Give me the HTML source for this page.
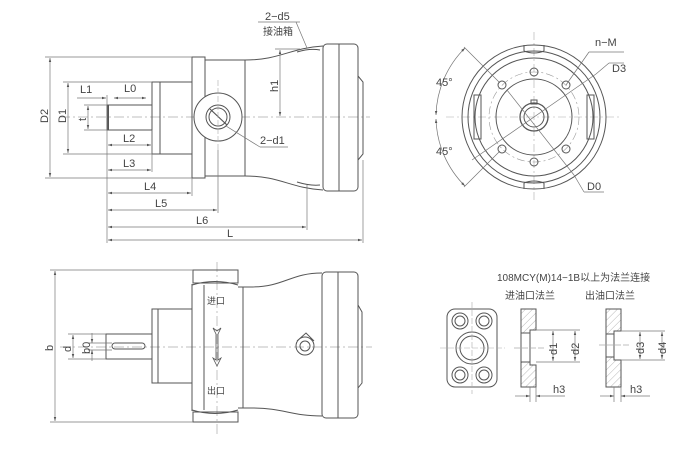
<!DOCTYPE html>
<html><head><meta charset="utf-8"><style>
html,body{margin:0;padding:0;background:#fff;}
svg{display:block}
text{font-family:"Liberation Sans","Noto Sans CJK SC",sans-serif;fill:#444;}
</style></head><body>
<svg width="698" height="456" viewBox="0 0 698 456" xmlns="http://www.w3.org/2000/svg">
<defs>
<marker id="a" viewBox="0 0 10 10" refX="10" refY="5" markerWidth="6" markerHeight="6" orient="auto-start-reverse"><path d="M0,2 L10,5 L0,8 z" fill="#555"/></marker>
<pattern id="h" width="5" height="5" patternUnits="userSpaceOnUse" patternTransform="rotate(45)"><line x1="0" y1="0" x2="0" y2="5" stroke="#999" stroke-width="0.7"/></pattern>
</defs>
<g stroke="#555" fill="none" stroke-width="1">
<!-- TOP VIEW -->
<line x1="60" y1="117" x2="370" y2="117" stroke="#aaa" stroke-dasharray="10,3,2,3" stroke-width="0.7"/>
<rect x="107" y="105" width="45" height="25"/>
<line x1="108" y1="105" x2="108" y2="130" stroke-width="2"/>
<rect x="152" y="82" width="40" height="72"/>
<line x1="160" y1="82" x2="160" y2="154"/>
<rect x="192" y="57" width="13" height="121"/>
<path d="M205,60 L245,60 C280,60 290,48 323,46 M205,176 L245,176 C280,176 290,188 323,190"/>
<line x1="245" y1="60" x2="245" y2="176"/>
<circle cx="218" cy="117" r="24" fill="#fff"/>
<circle cx="218" cy="117" r="12"/>
<circle cx="218" cy="117" r="9"/>
<line x1="210" y1="109" x2="227" y2="125" stroke-width="1.2"/>
<line x1="218" y1="80" x2="218" y2="150" stroke="#aaa" stroke-dasharray="6,2" stroke-width="0.6"/>
<rect x="323" y="44" width="35" height="147" rx="4"/>
<line x1="339" y1="44" x2="339" y2="191"/>
<path d="M358,76 L363,82 L363,154 L358,160"/>
<path d="M297,52 Q310,48 320,50 M297,182 Q310,186 320,185"/>
<!-- top dims -->
<g stroke="#777" stroke-width="0.7">
<line x1="45" y1="57" x2="192" y2="57"/><line x1="45" y1="178" x2="192" y2="178"/>
<line x1="50" y1="58" x2="50" y2="177" marker-start="url(#a)" marker-end="url(#a)"/>
<line x1="63" y1="82" x2="152" y2="82"/><line x1="63" y1="154" x2="152" y2="154"/>
<line x1="68" y1="83" x2="68" y2="153" marker-start="url(#a)" marker-end="url(#a)"/>
<line x1="84" y1="105" x2="107" y2="105"/><line x1="84" y1="130" x2="107" y2="130"/>
<line x1="88" y1="106" x2="88" y2="129" marker-start="url(#a)" marker-end="url(#a)"/>
<line x1="77" y1="98" x2="106" y2="98" marker-end="url(#a)"/>
<line x1="114" y1="98" x2="146" y2="98" marker-start="url(#a)" marker-end="url(#a)"/>
<line x1="107" y1="95" x2="107" y2="243"/>
<line x1="152" y1="130" x2="152" y2="172"/>
<line x1="108" y1="145" x2="151" y2="145" marker-start="url(#a)" marker-end="url(#a)"/>
<line x1="108" y1="170" x2="151" y2="170" marker-start="url(#a)" marker-end="url(#a)"/>
<line x1="192" y1="178" x2="192" y2="196"/>
<line x1="108" y1="193" x2="191" y2="193" marker-start="url(#a)" marker-end="url(#a)"/>
<line x1="218" y1="150" x2="218" y2="213"/>
<line x1="108" y1="210" x2="217" y2="210" marker-start="url(#a)" marker-end="url(#a)"/>
<line x1="307" y1="185" x2="307" y2="230"/>
<line x1="108" y1="227" x2="306" y2="227" marker-start="url(#a)" marker-end="url(#a)"/>
<line x1="363" y1="160" x2="363" y2="243"/>
<line x1="108" y1="240" x2="362" y2="240" marker-start="url(#a)" marker-end="url(#a)"/>
<line x1="275" y1="49" x2="300" y2="49"/>
<line x1="280" y1="50" x2="280" y2="116" marker-start="url(#a)" marker-end="url(#a)"/>
<line x1="258" y1="22" x2="300" y2="22"/><line x1="296" y1="22" x2="307" y2="48"/>
<line x1="226" y1="126" x2="260" y2="147"/><line x1="260" y1="147" x2="288" y2="147"/>
</g>
<!-- BOTTOM VIEW -->
<line x1="60" y1="347" x2="372" y2="347" stroke="#aaa" stroke-dasharray="10,3,2,3" stroke-width="0.7"/>
<line x1="217" y1="262" x2="217" y2="434" stroke="#aaa" stroke-dasharray="10,3,2,3" stroke-width="0.7"/>
<rect x="106" y="334" width="46" height="25"/>
<rect x="112" y="343" width="33" height="6" rx="3"/>
<rect x="152" y="309" width="40" height="74"/>
<line x1="158" y1="309" x2="158" y2="383"/>
<rect x="193" y="270" width="45" height="13"/>
<rect x="193" y="412" width="45" height="10"/>
<path d="M192,285 Q215,278 238,285 M192,410 Q215,417 238,410"/>
<line x1="192" y1="284" x2="192" y2="411"/><line x1="204" y1="285" x2="204" y2="410"/>
<line x1="243" y1="287" x2="243" y2="408"/>
<path d="M238,287 L250,287 C285,287 290,273 322,273 M238,408 L250,408 C285,408 290,416 322,416"/>
<rect x="322" y="272" width="36" height="146" rx="4"/>
<line x1="338" y1="272" x2="338" y2="418"/>
<path d="M358,305 L362,312 L362,383 L358,388"/>
<path d="M296,346 A9,9 0 0 1 314,346 A9,9 0 0 1 296,346 M297,341 L306,333 L314,341"/>
<circle cx="305" cy="346" r="5"/>
<path d="M213,328 L216,334 L216,360 L213,358 L217,366 L221,358 L218,360 L218,334 L221,328 L217,331 Z" stroke-width="0.8"/>
<g stroke="#777" stroke-width="0.7">
<line x1="50" y1="270" x2="193" y2="270"/><line x1="50" y1="422" x2="193" y2="422"/>
<line x1="55" y1="271" x2="55" y2="421" marker-start="url(#a)" marker-end="url(#a)"/>
<line x1="68" y1="334" x2="106" y2="334"/><line x1="68" y1="359" x2="106" y2="359"/>
<line x1="73" y1="335" x2="73" y2="358" marker-start="url(#a)" marker-end="url(#a)"/>
<line x1="88" y1="343" x2="112" y2="343"/><line x1="88" y1="350" x2="112" y2="350"/>
<line x1="92" y1="333" x2="92" y2="343" marker-end="url(#a)"/><line x1="92" y1="361" x2="92" y2="350" marker-end="url(#a)"/>
</g>
<!-- RIGHT TOP circle view -->
<g transform="translate(534,117)">
<line x1="-88" y1="0" x2="88" y2="0" stroke="#aaa" stroke-dasharray="8,3,2,3" stroke-width="0.6"/>
<line x1="0" y1="-85" x2="0" y2="85" stroke="#aaa" stroke-dasharray="8,3,2,3" stroke-width="0.6"/>
<circle r="72"/><circle r="66"/><circle r="59"/>
<circle r="45" stroke="#999" stroke-dasharray="8,3,2,3" stroke-width="0.6"/>
<circle r="38"/><circle r="14" stroke-width="1.3"/><circle r="10"/>
<rect x="-3" y="-17" width="6" height="4"/>
<rect x="-60" y="-22" width="7" height="44"/><rect x="53" y="-22" width="7" height="44"/>
<path d="M-10,-66 L-10,-72 M10,-66 L10,-72 M-10,-66 Q0,-62 10,-66 M-10,66 L-10,72 M10,66 L10,72 M-10,66 Q0,62 10,66"/>
<circle cx="0" cy="-45" r="4"/><circle cx="0" cy="45" r="4"/>
<circle cx="-32" cy="-32" r="4"/><circle cx="32" cy="-32" r="4"/>
<circle cx="-32" cy="32" r="4"/><circle cx="32" cy="32" r="4"/>
<g stroke="#777" stroke-width="0.7">
<line x1="-70" y1="-70" x2="-34" y2="-34"/><line x1="-70" y1="70" x2="-34" y2="34"/>
<line x1="-62" y1="43" x2="62" y2="-43"/>
<line x1="-27" y1="-27" x2="40" y2="58"/><line x1="40" y1="58" x2="50" y2="75"/>
<line x1="32" y1="-32" x2="55" y2="-65"/><line x1="55" y1="-65" x2="90" y2="-65"/>
<line x1="62" y1="-43" x2="75" y2="-54"/><line x1="75" y1="-54" x2="90" y2="-54"/>
<line x1="50" y1="75" x2="70" y2="75"/>
<path d="M-69,-69 A98,98 0 0 0 -98,-2" marker-start="url(#a)" marker-end="url(#a)"/>
<path d="M-98,2 A98,98 0 0 0 -69,69" marker-start="url(#a)" marker-end="url(#a)"/>
</g>
</g>
<!-- FLANGES -->
<rect x="447" y="309" width="50" height="78" rx="8"/>
<circle cx="460" cy="321" r="8"/><circle cx="460" cy="321" r="5"/>
<circle cx="484" cy="321" r="8"/><circle cx="484" cy="321" r="5"/>
<circle cx="460" cy="375" r="8"/><circle cx="460" cy="375" r="5"/>
<circle cx="484" cy="375" r="8"/><circle cx="484" cy="375" r="5"/>
<circle cx="472" cy="348" r="16"/><circle cx="472" cy="348" r="12"/>
<line x1="440" y1="348" x2="505" y2="348" stroke="#aaa" stroke-dasharray="6,2" stroke-width="0.6"/>
<line x1="472" y1="302" x2="472" y2="394" stroke="#aaa" stroke-dasharray="6,2" stroke-width="0.6"/>
<path d="M521,309 H536 V330 H530 V333 H521 Z" fill="url(#h)"/>
<path d="M521,387 H536 V365 H530 V362 H521 Z" fill="url(#h)"/>
<path d="M521,333 V362 M530,333 V362"/>
<path d="M606,309 H621 V331 H614 V334 H606 Z" fill="url(#h)"/>
<path d="M606,387 H621 V360 H614 V357 H606 Z" fill="url(#h)"/>
<path d="M606,334 V357 M614,334 V357"/>
<g stroke="#777" stroke-width="0.7">
<line x1="514" y1="348" x2="545" y2="348" stroke="#aaa" stroke-dasharray="6,2"/>
<line x1="599" y1="345" x2="630" y2="345" stroke="#aaa" stroke-dasharray="6,2"/>
<line x1="536" y1="330" x2="580" y2="330"/><line x1="536" y1="362" x2="580" y2="362"/>
<line x1="553" y1="331" x2="553" y2="361" marker-start="url(#a)" marker-end="url(#a)"/>
<line x1="575" y1="331" x2="575" y2="361" marker-start="url(#a)" marker-end="url(#a)"/>
<line x1="621" y1="331" x2="665" y2="331"/><line x1="621" y1="360" x2="665" y2="360"/>
<line x1="640" y1="332" x2="640" y2="359" marker-start="url(#a)" marker-end="url(#a)"/>
<line x1="662" y1="332" x2="662" y2="359" marker-start="url(#a)" marker-end="url(#a)"/>
<line x1="530" y1="387" x2="530" y2="402"/><line x1="536" y1="387" x2="536" y2="402"/>
<line x1="515" y1="396" x2="530" y2="396" marker-end="url(#a)"/><line x1="565" y1="396" x2="536" y2="396" marker-end="url(#a)"/>
<line x1="614" y1="387" x2="614" y2="402"/><line x1="621" y1="387" x2="621" y2="402"/>
<line x1="600" y1="396" x2="614" y2="396" marker-end="url(#a)"/><line x1="650" y1="396" x2="621" y2="396" marker-end="url(#a)"/>
</g>
</g>
<g font-size="11">
<text x="265" y="20">2−d5</text>
<text x="263" y="35" font-size="10">接油箱</text>
<text x="80" y="93">L1</text><text x="124" y="92">L0</text>
<text x="123" y="142">L2</text><text x="123" y="167">L3</text>
<text x="144" y="190">L4</text><text x="155" y="207">L5</text>
<text x="196" y="224">L6</text><text x="227" y="237">L</text>
<text x="260" y="144">2−d1</text>
<text transform="translate(48,123) rotate(-90)">D2</text>
<text transform="translate(66,123) rotate(-90)">D1</text>
<text transform="translate(86,121) rotate(-90)">t</text>
<text transform="translate(278,92) rotate(-90)">h1</text>
<text transform="translate(53,351) rotate(-90)">b</text>
<text transform="translate(71,352) rotate(-90)">d</text>
<text transform="translate(90,354) rotate(-90)">b0</text>
<text x="207" y="304" font-size="9">进口</text>
<text x="207" y="394" font-size="9">出口</text>
<text x="595" y="46">n−M</text><text x="612" y="72">D3</text>
<text x="587" y="190">D0</text>
<text x="436" y="86">45°</text><text x="436" y="155">45°</text>
<text x="497" y="281" font-size="10">108MCY(M)14−1B以上为法兰连接</text>
<text x="505" y="299" font-size="10">进油口法兰</text>
<text x="585" y="299" font-size="10">出油口法兰</text>
<text transform="translate(557,355) rotate(-90)">d1</text>
<text transform="translate(579,355) rotate(-90)">d2</text>
<text transform="translate(644,354) rotate(-90)">d3</text>
<text transform="translate(666,354) rotate(-90)">d4</text>
<text x="553" y="393">h3</text><text x="630" y="393">h3</text>
</g>
</svg>
</body></html>
